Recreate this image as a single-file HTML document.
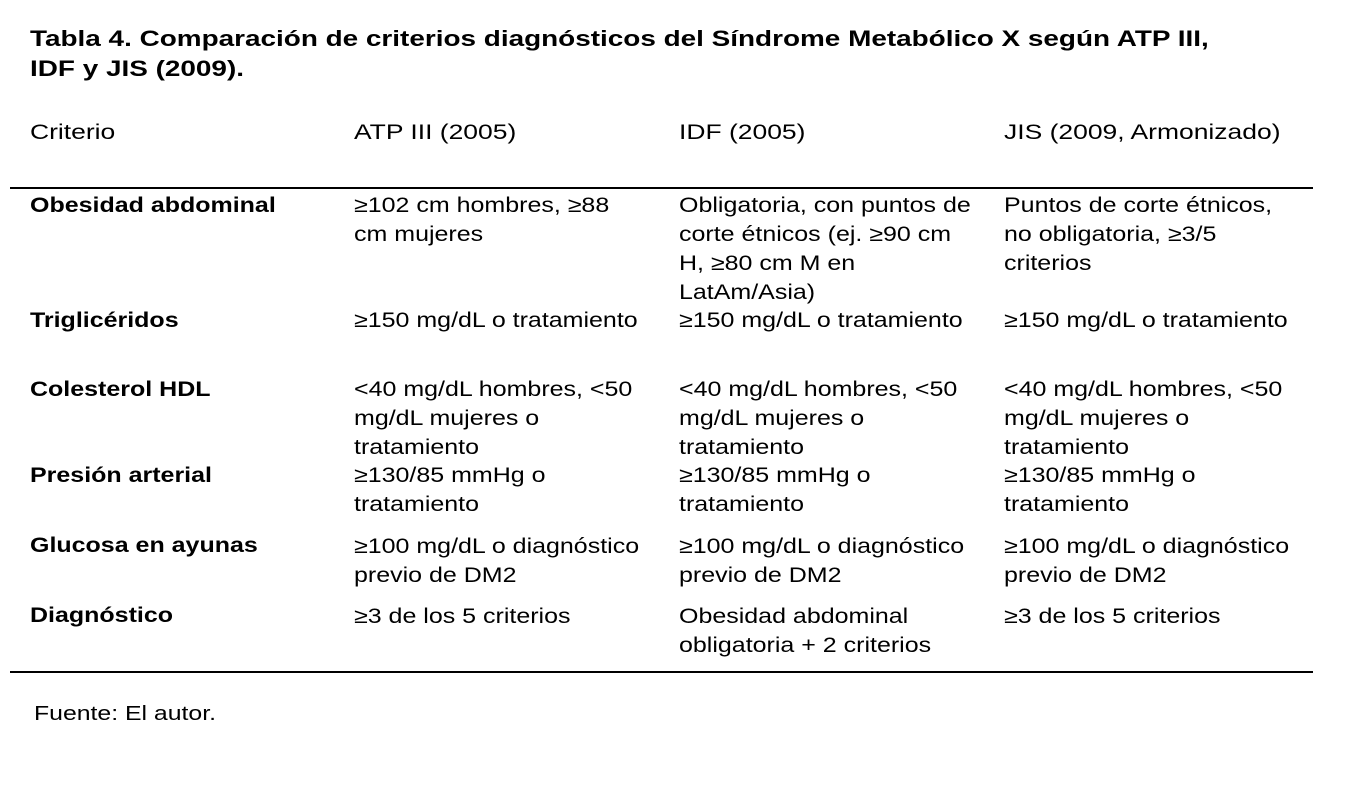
<!DOCTYPE html>
<html><head><meta charset="utf-8"><style>
body{margin:0;width:1352px;height:792px;background:#fff;position:relative;font-family:"Liberation Sans",Arial,sans-serif;color:#000;overflow:hidden}
.t{position:absolute;font-size:21px;line-height:29px;white-space:nowrap;transform:scaleX(1.19);transform-origin:0 0}
.b{font-weight:bold}
.hd{transform:scaleX(1.26)}
.h{position:absolute;left:10px;width:1303px;height:2px;background:#000}
</style></head><body>
<div class="t b" style="left:30px;top:24px;font-size:22.5px;line-height:30px;transform:scaleX(1.24)">Tabla 4. Comparación de criterios diagnósticos del Síndrome Metabólico X según ATP III,<br>IDF y JIS (2009).</div>
<div class="t hd" style="left:30px;top:118px">Criterio</div>
<div class="t hd" style="left:354px;top:118px">ATP III (2005)</div>
<div class="t hd" style="left:679px;top:118px">IDF (2005)</div>
<div class="t hd" style="left:1004px;top:118px">JIS (2009, Armonizado)</div>
<div class="h" style="top:187px"></div>

<div class="t b" style="left:30px;top:191px">Obesidad abdominal</div>
<div class="t" style="left:354px;top:191px">≥102 cm hombres, ≥88<br>cm mujeres</div>
<div class="t" style="left:679px;top:191px">Obligatoria, con puntos de<br>corte étnicos (ej. ≥90 cm<br>H, ≥80 cm M en<br>LatAm/Asia)</div>
<div class="t" style="left:1004px;top:191px">Puntos de corte étnicos,<br>no obligatoria, ≥3/5<br>criterios</div>

<div class="t b" style="left:30px;top:306px">Triglicéridos</div>
<div class="t" style="left:354px;top:306px">≥150 mg/dL o tratamiento</div>
<div class="t" style="left:679px;top:306px">≥150 mg/dL o tratamiento</div>
<div class="t" style="left:1004px;top:306px">≥150 mg/dL o tratamiento</div>

<div class="t b" style="left:30px;top:375px">Colesterol HDL</div>
<div class="t" style="left:354px;top:375px">&lt;40 mg/dL hombres, &lt;50<br>mg/dL mujeres o<br>tratamiento</div>
<div class="t" style="left:679px;top:375px">&lt;40 mg/dL hombres, &lt;50<br>mg/dL mujeres o<br>tratamiento</div>
<div class="t" style="left:1004px;top:375px">&lt;40 mg/dL hombres, &lt;50<br>mg/dL mujeres o<br>tratamiento</div>

<div class="t b" style="left:30px;top:461px">Presión arterial</div>
<div class="t" style="left:354px;top:461px">≥130/85 mmHg o<br>tratamiento</div>
<div class="t" style="left:679px;top:461px">≥130/85 mmHg o<br>tratamiento</div>
<div class="t" style="left:1004px;top:461px">≥130/85 mmHg o<br>tratamiento</div>

<div class="t b" style="left:30px;top:531px">Glucosa en ayunas</div>
<div class="t" style="left:354px;top:532px">≥100 mg/dL o diagnóstico<br>previo de DM2</div>
<div class="t" style="left:679px;top:532px">≥100 mg/dL o diagnóstico<br>previo de DM2</div>
<div class="t" style="left:1004px;top:532px">≥100 mg/dL o diagnóstico<br>previo de DM2</div>

<div class="t b" style="left:30px;top:601px">Diagnóstico</div>
<div class="t" style="left:354px;top:602px">≥3 de los 5 criterios</div>
<div class="t" style="left:679px;top:602px">Obesidad abdominal<br>obligatoria + 2 criterios</div>
<div class="t" style="left:1004px;top:602px">≥3 de los 5 criterios</div>

<div class="h" style="top:671px"></div>
<div class="t" style="left:34px;top:700px;font-size:20px;transform:scaleX(1.24)">Fuente: El autor.</div>
</body></html>
